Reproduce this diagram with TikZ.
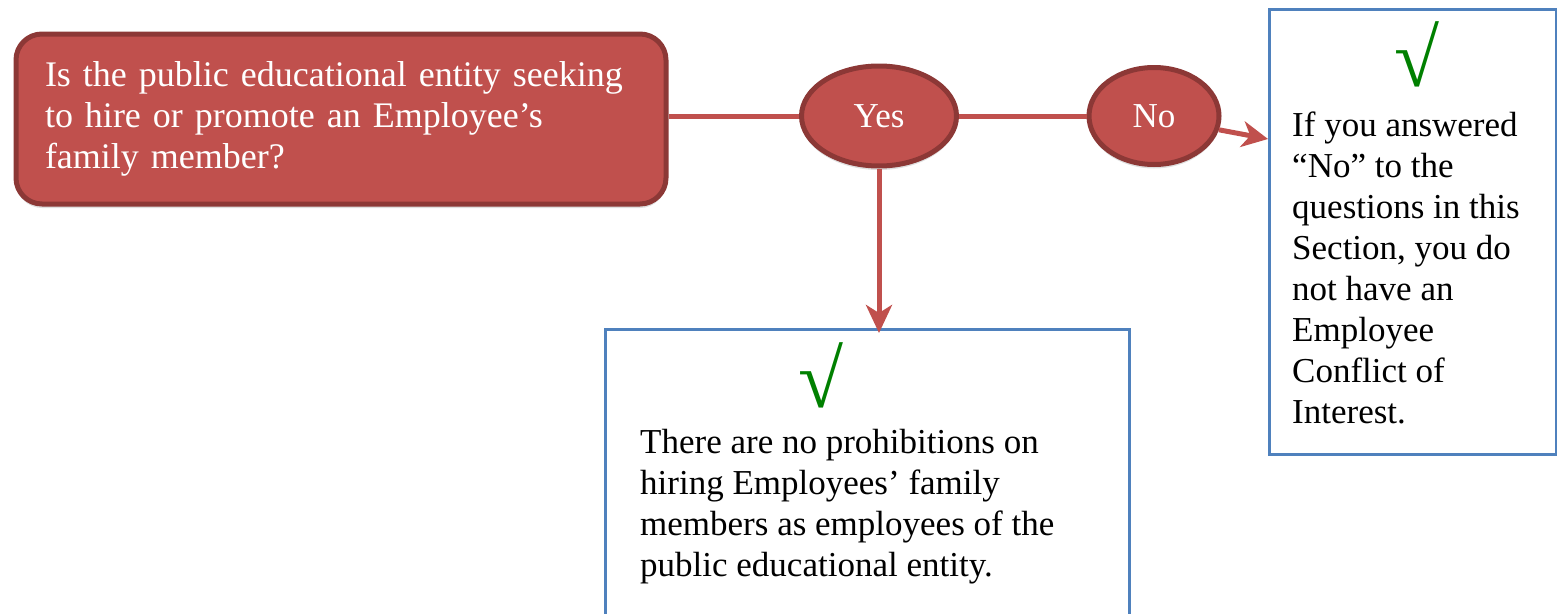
\documentclass[tikz,border=0pt]{standalone}
\usepackage{fontspec}
\setmainfont{Liberation Serif}
\usetikzlibrary{shapes.geometric,arrows.meta,shadows}
\definecolor{qred}{RGB}{192,80,77}
\definecolor{qdark}{RGB}{140,56,54}
\definecolor{bblue}{RGB}{79,129,189}
\definecolor{cgreen}{RGB}{0,128,0}
\tikzset{
  redbox/.style={draw=qdark, line width=5pt, fill=qred, rounded corners=26pt,
    drop shadow={opacity=0.25, shadow xshift=0pt, shadow yshift=-4pt}},
  answer/.style={draw=qdark, line width=5pt, fill=qred, ellipse, inner sep=0pt,
    text=white, font=\fontsize{35}{41}\selectfont,
    drop shadow={opacity=0.25, shadow xshift=0pt, shadow yshift=-4pt}},
  bluebox/.style={draw=bblue, line width=3pt, fill=white},
  line/.style={draw=qred, line width=5pt},
  tick/.style={text=cgreen, font=\fontsize{82}{82}\selectfont, inner sep=0pt},
  body/.style={align=left, inner sep=0pt, anchor=north west,
    font=\fontsize{35}{41}\selectfont}
}
\begin{document}
\begin{tikzpicture}[x=1pt,y=-1pt]
\useasboundingbox (0,0) rectangle (1557,613);

\node[redbox, minimum width=650pt, minimum height=170pt, text width=592pt,
  align=left, inner xsep=29pt, text=white, font=\fontsize{36}{41}\selectfont]
  (question) at (341,119)
  {Is the public educational entity seeking\\to hire or promote an Employee’s\\family member?};

\node[answer, minimum width=155pt, minimum height=100pt] (yes) at (879,116) {Yes};
\node[answer, minimum width=130pt, minimum height=97pt] (no) at (1154,116) {No};

\node[bluebox, anchor=north west, minimum width=524pt, minimum height=320pt] (yesbox) at (604,328) {};
\node[bluebox, anchor=north west, minimum width=287pt, minimum height=445pt] (nobox) at (1268,8) {};
\coordinate (notip) at (1268,139);

\node[tick] (yescheck) at (821,375) {√};
\node[tick] (nocheck) at (1417,54) {√};

\node[body] (yestext) at (640,429)
  {There are no prohibitions on\\hiring Employees’ family\\members as employees of the\\public educational entity.};
\node[body] (notext) at (1292,112)
  {If you answered\\“No” to the\\questions in this\\Section, you do\\not have an\\Employee\\Conflict of\\Interest.};

\path[line] (yes.west) -- (yes.west -| question.east);
\path[line] (yes.east) -- (no.west);
\path[line, -{Stealth[length=26pt, width=26pt, inset=8pt]}] (no.-12) -- (notip);
\path[line, -{Stealth[length=28pt, width=26pt, inset=8pt]}] (yes.south) -- ([yshift=-5pt]yes.south |- yesbox.north);
\end{tikzpicture}
\end{document}
